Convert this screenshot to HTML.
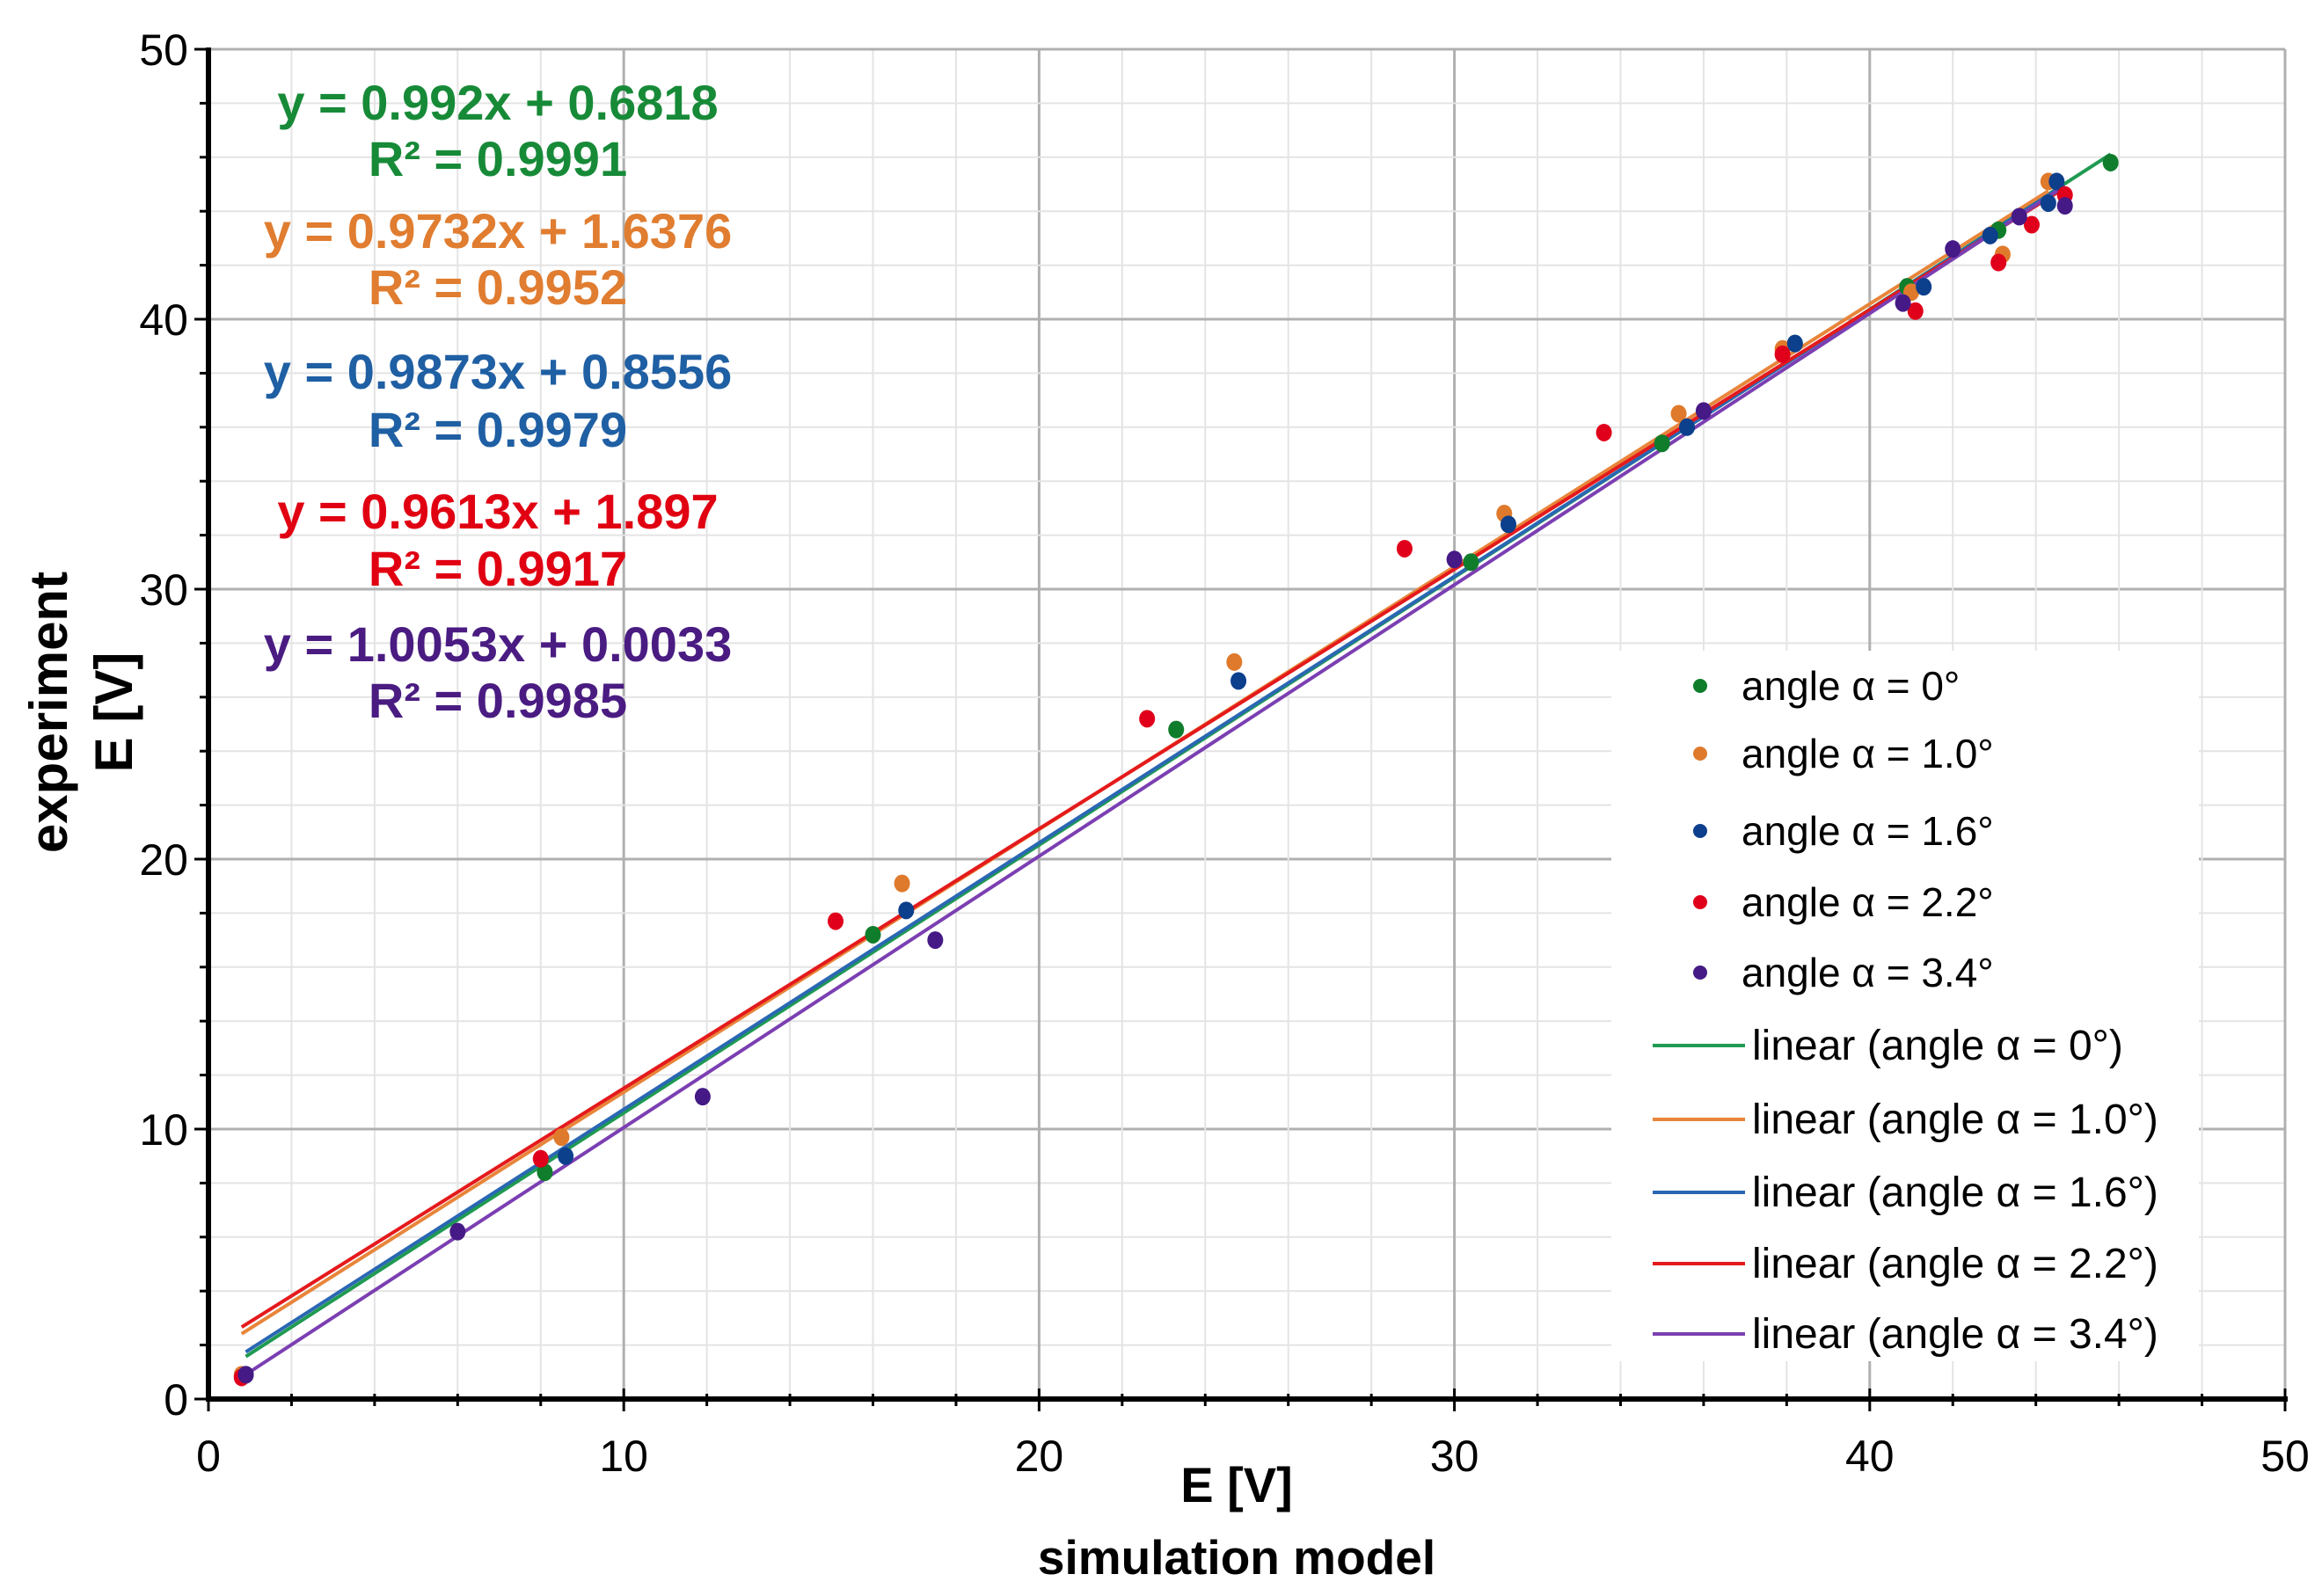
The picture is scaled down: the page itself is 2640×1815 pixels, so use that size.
<!DOCTYPE html>
<html><head><meta charset="utf-8"><style>
html,body{margin:0;padding:0;background:#fff}
svg{display:block}
text{font-family:"Liberation Sans",sans-serif}
</style></head><body>
<svg id="chart" width="2640" height="1815" viewBox="0 0 2640 1815" xmlns="http://www.w3.org/2000/svg">
<rect width="2640" height="1815" fill="#fff"/>
<g id="grid"></g>
<g id="lines"></g>
<g id="points"></g>
<g id="axes"></g>
<g id="eqs"></g>
<g id="legend"></g>
<text transform="translate(76,810) rotate(-90)" text-anchor="middle" font-size="60" font-weight="bold">experiment</text>
<text transform="translate(150,810) rotate(-90)" text-anchor="middle" font-size="60" font-weight="bold">E [V]</text>
<text x="1406" y="1708" text-anchor="middle" font-size="56" font-weight="bold">E [V]</text>
<text x="1406" y="1790" text-anchor="middle" font-size="55" font-weight="bold">simulation model</text>
</svg>
<script>
const seriesNames = ["angle α = 0°","angle α = 1.0°","angle α = 1.6°","angle α = 2.2°","angle α = 3.4°"];
const xTicks = [0,10,20,30,40,50];
const yTicks = [0,10,20,30,40,50];
const s0x = [0.9,8.1,16.0,23.3,30.4,35.0,38.2,40.9,43.1,45.8];
const s0y = [0.9,8.4,17.2,24.8,31.0,35.4,39.1,41.2,43.3,45.8];
const s1x = [0.8,8.5,16.7,24.7,31.2,35.4,37.9,41.0,43.2,44.3];
const s1y = [0.9,9.7,19.1,27.3,32.8,36.5,38.9,41.0,42.4,45.1];
const s2x = [0.9,8.6,16.8,24.8,31.3,35.6,38.2,41.3,42.9,44.3,44.5];
const s2y = [0.9,9.0,18.1,26.6,32.4,36.0,39.1,41.2,43.1,44.3,45.1];
const s3x = [0.8,8.0,15.1,22.6,28.8,33.6,37.9,41.1,43.1,43.9,44.7];
const s3y = [0.8,8.9,17.7,25.2,31.5,35.8,38.7,40.3,42.1,43.5,44.6];
const s4x = [0.9,6.0,11.9,17.5,30.0,36.0,40.8,42.0,43.6,44.7];
const s4y = [0.9,6.2,11.2,17.0,31.1,36.6,40.6,42.6,43.8,44.2];
const slopes = [0.992,0.9732,0.9873,0.9613,1.0053];
const intercepts = [0.6818,1.6376,0.8556,1.897,0.0033];
const r2 = ["0.9991","0.9952","0.9979","0.9917","0.9985"];

const L=237,R=2598,T=56,B=1591;
const X=v=>L+(v/50)*(R-L);
const Y=v=>B-(v/50)*(B-T);
const NS="http://www.w3.org/2000/svg";
function mk(tag,attrs,parent){const e=document.createElementNS(NS,tag);for(const k in attrs)e.setAttribute(k,attrs[k]);parent.appendChild(e);return e;}
const ptCol=["#0f7d2c","#df7a2c","#0c3f8c","#e0001b","#451a86"];
const lnCol=["#1f9a52","#e8853a","#2a67b3","#e41a1c","#7b3fb2"];
const eqCol=["#178a38","#e07d30","#1f5fa3","#e00012","#4a1c82"];
const sx=[s0x,s1x,s2x,s3x,s4x], sy=[s0y,s1y,s2y,s3y,s4y];

const grid=document.getElementById('grid');
for(let v=2;v<=50;v+=2){
  const major=v%10===0;
  const gx=mk('line',{x1:X(v),x2:X(v),y1:T,y2:B,stroke:major?'#b0b0b0':'#e4e4e4','stroke-width':major?3:2},grid);
  
  
  const gy=mk('line',{x1:L,x2:R,y1:Y(v),y2:Y(v),stroke:major?'#b0b0b0':'#e4e4e4','stroke-width':major?3:2},grid);
  
  
}

const lines=document.getElementById('lines');
for(let i=0;i<5;i++){
  const x0=Math.min(...sx[i]),x1=Math.max(...sx[i]);
  const ln=mk('line',{x1:X(x0),y1:Y(slopes[i]*x0+intercepts[i]),x2:X(x1),y2:Y(slopes[i]*x1+intercepts[i]),stroke:lnCol[i],'stroke-width':4},lines);
  
  
}
const pts=document.getElementById('points');
for(let i=0;i<5;i++){
  for(let j=0;j<sx[i].length;j++){
    const c=mk('ellipse',{cx:X(sx[i][j]),cy:Y(sy[i][j]),rx:9,ry:10,fill:ptCol[i]},pts);
    
    
  }
}

const axes=document.getElementById('axes');
mk('line',{x1:L,x2:L,y1:T-2,y2:B+3,stroke:'#000','stroke-width':6},axes);
mk('line',{x1:L-3,x2:R+3,y1:B,y2:B,stroke:'#000','stroke-width':6},axes);
mk('line',{x1:R,x2:R,y1:T,y2:B,stroke:'#b0b0b0','stroke-width':3},axes);
for(let v=0;v<=50;v+=2){
  const major=v%10===0;
  mk('line',{x1:L-(major?16:10),x2:L,y1:Y(v),y2:Y(v),stroke:'#000','stroke-width':3},axes);
  mk('line',{x1:X(v),x2:X(v),y1:B-(major?12:6),y2:B+(major?14:8),stroke:'#000','stroke-width':3},axes);
}
for(const t of yTicks){
  const e=mk('text',{x:214,y:Y(t)+18,'text-anchor':'end','font-size':50},axes);
  
  
  e.textContent=t;
}
for(const t of xTicks){
  const e=mk('text',{x:X(t),y:1673,'text-anchor':'middle','font-size':50},axes);
  
  
  e.textContent=t;
}

const eqs=document.getElementById('eqs');
const eqY=[136,200,282,346,442,508,601,666,752,816];
for(let i=0;i<5;i++){
  const a=mk('text',{x:566,y:eqY[2*i],'text-anchor':'middle','font-size':56,'font-weight':'bold',fill:eqCol[i]},eqs);
  
  
  a.textContent='y = '+slopes[i]+'x + '+intercepts[i];
  const b=mk('text',{x:566,y:eqY[2*i+1],'text-anchor':'middle','font-size':56,'font-weight':'bold',fill:eqCol[i]},eqs);
  
  
  b.textContent='R² = '+r2[i];
}

const leg=document.getElementById('legend');
mk('rect',{x:1832,y:740,width:668,height:808,fill:'#fff'},leg);
const legPY=[780,857,945,1026,1106];
const legLY=[1189,1273,1356,1437,1517];
for(let i=0;i<5;i++){
  const m=mk('ellipse',{cx:1933,cy:legPY[i],rx:8,ry:8,fill:ptCol[i]},leg);
  
  
  const t=mk('text',{x:1980,y:legPY[i]+16,'font-size':46},leg);
  
  
  t.textContent=seriesNames[i];
  const l=mk('line',{x1:1879,x2:1984,y1:legLY[i],y2:legLY[i],stroke:lnCol[i],'stroke-width':4},leg);
  
  
  const t2=mk('text',{x:1992,y:legLY[i]+16,'font-size':48},leg);
  
  
  t2.textContent='linear ('+seriesNames[i]+')';
}
</script>
</body></html>
